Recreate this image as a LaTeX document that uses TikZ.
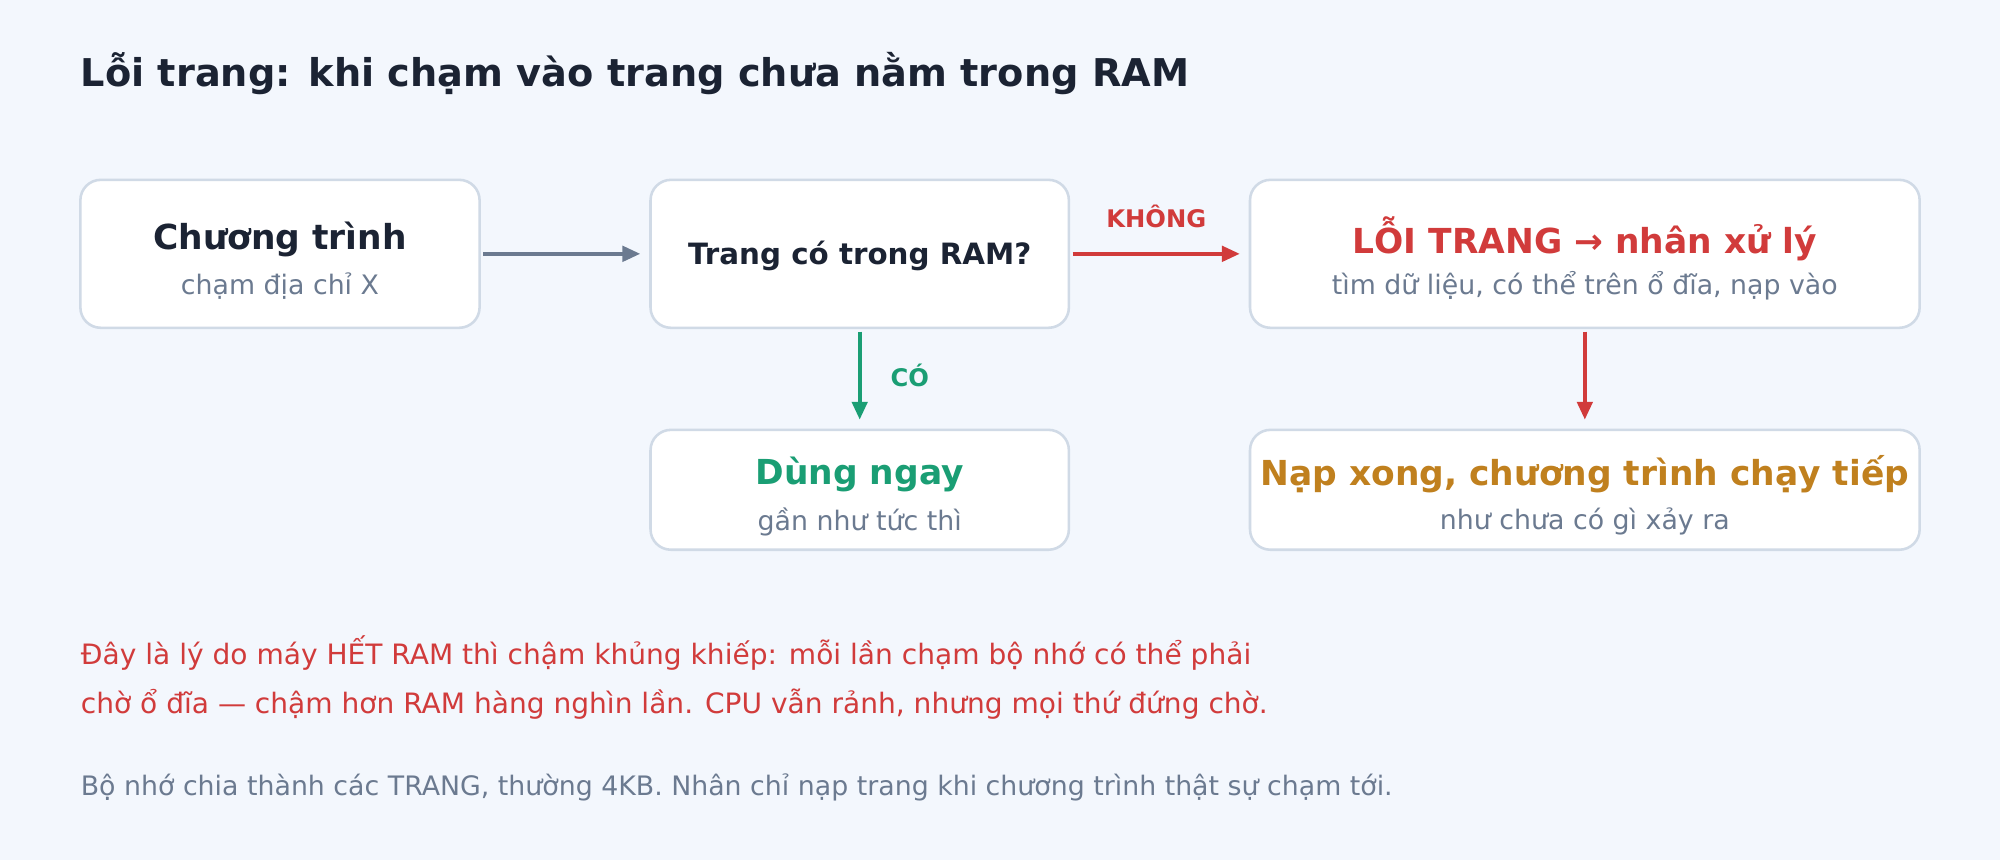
\documentclass[tikz,border=0pt]{standalone}
\usepackage{fontspec}
\setmainfont{DejaVu Sans}
\usetikzlibrary{positioning,arrows.meta}
\definecolor{bgc}{HTML}{F3F7FD}
\definecolor{ink}{HTML}{1B2333}
\definecolor{muted}{HTML}{6B7A90}
\definecolor{edge}{HTML}{D0DAE6}
\definecolor{warn}{HTML}{D13B3B}
\definecolor{okc}{HTML}{1A9E74}
\definecolor{gold}{HTML}{C0801E}
\tikzset{
  box/.style={draw=edge, line width=1pt, fill=white, rounded corners=8pt},
  head/.style={font=\bfseries\fontsize{13.5}{15}\selectfont},
  sub/.style={text=muted, font=\fontsize{10.5}{12}\selectfont},
  link/.style={line width=1.5pt, -{Triangle[length=7pt,width=6pt]}},
  tag/.style={font=\bfseries\fontsize{9.5}{11}\selectfont}
}
\begin{document}
\begin{tikzpicture}[x=0.5pt, y=-0.5pt]
\useasboundingbox[fill=bgc] (0,0) rectangle (1568,674);

\node[anchor=west, inner sep=0pt, text=ink, font=\bfseries\fontsize{15}{17}\selectfont] (title) at (63,58) {Lỗi trang: khi chạm vào trang chưa nằm trong RAM};

% boxes
\node[box, minimum width=156.5pt, minimum height=58pt] (prog) at (219.5,199) {};
\node[box, minimum width=164pt, minimum height=58pt] (check) at (674,199) {};
\node[box, minimum width=262.5pt, minimum height=58pt] (fault) at (1242.5,199) {};
\node[box, minimum width=164pt, minimum height=47pt] (use) at (674,384) {};
\node[box, minimum width=262.5pt, minimum height=47pt] (done) at (1242.5,384) {};

% box texts
\node[head, text=ink] (progT) at (219.5,188) {Chương trình};
\node[sub] (progS) at (219.5,224) {chạm địa chỉ X};
\node[text=ink, font=\bfseries\fontsize{11.5}{13}\selectfont] (checkT) at (674,201) {Trang có trong RAM?};
\node[head, text=warn] (faultT) at (1242.5,187) {LỖI TRANG → nhân xử lý};
\node[sub] (faultS) at (1242.5,224) {tìm dữ liệu, có thể trên ổ đĩa, nạp vào};
\node[head, text=okc] (useT) at (674,372) {Dùng ngay};
\node[sub] (useS) at (674,409) {gần như tức thì};
\node[head, text=gold] (doneT) at (1242.5,372) {Nạp xong, chương trình chạy tiếp};
\node[sub] (doneS) at (1242.5,409) {như chưa có gì xảy ra};

% connectors
\draw[link, muted] (prog.east) ++(2,0) -- ([xshift=-3.5pt]check.west);
\draw[link, warn] (check.east) ++(2,0) -- ([xshift=-3.5pt]fault.west) node[midway, above=6pt, tag] (no) {KHÔNG};
\draw[link, okc] ([yshift=-1pt]check.south) -- ([yshift=3.5pt]use.north) node[midway, right=8pt, tag] (yes) {CÓ};
\draw[link, warn] ([yshift=-1pt]fault.south) -- ([yshift=3.5pt]done.north);

% notes
\node[anchor=north west, inner sep=0pt, text=warn, align=left, font=\fontsize{11}{19}\selectfont] (why) at (63,498) {Đây là lý do máy HẾT RAM thì chậm khủng khiếp: mỗi lần chạm bộ nhớ có thể phải\\chờ ổ đĩa — chậm hơn RAM hàng nghìn lần. CPU vẫn rảnh, nhưng mọi thứ đứng chờ.};
\node[anchor=west, inner sep=0pt, sub] (note) at (63,617) {Bộ nhớ chia thành các TRANG, thường 4KB. Nhân chỉ nạp trang khi chương trình thật sự chạm tới.};
\end{tikzpicture}
\end{document}
